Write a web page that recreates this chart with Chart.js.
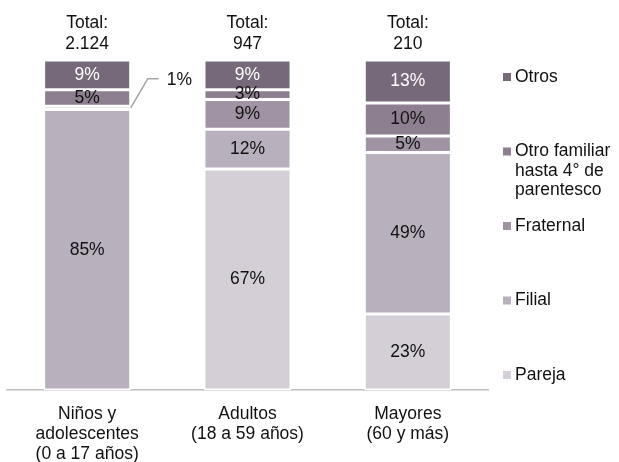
<!DOCTYPE html>
<html lang="es">
<head>
<meta charset="UTF-8">
<title>Relación con el agresor por grupo de edad</title>
<script src="https://cdn.jsdelivr.net/npm/chart.js@4.4.0/dist/chart.umd.min.js"></script>
<style>
    html, body {
        margin: 0;
        padding: 0;
        background: #fff;
        overflow: hidden;
    }
    canvas {
        display: block;
    }
</style>
</head>
<body>

<canvas id="chart" width="619" height="462"></canvas>

<script>
    const categories = [['Niños y', 'adolescentes', '(0 a 17 años)'], ['Adultos', '(18 a 59 años)'], ['Mayores', '(60 y más)']];
    const totals = ['2.124', '947', '210'];
    const seriesNames = ['Pareja', 'Filial', 'Fraternal', 'Otro familiar hasta 4° de parentesco', 'Otros'];
    const pareja = [0, 67, 23];
    const filial = [85, 12, 49];
    const fraternal = [1, 9, 5];
    const otroFamiliar = [5, 3, 10];
    const otros = [9, 9, 13];
    const seriesColors = ['#D4CFD6', '#B9B0BD', '#A093A3', '#8D7F8F', '#766A7A'];

    const FAMILY = '"Liberation Sans", Arial, sans-serif';
    const SIZE = 17.5;
    const FONT = SIZE + 'px ' + FAMILY;
    const TEXT = '#111';

    Chart.defaults.font.family = FAMILY;
    Chart.defaults.font.size = SIZE;
    Chart.defaults.color = TEXT;

    // percentages inside the segments, 1% gets a leader line
    const segmentLabels = {
        id: 'segmentLabels',
        afterDatasetsDraw(chart) {
            const ctx = chart.ctx;
            const last = chart.data.datasets.length - 1;
            ctx.save();
            ctx.font = FONT;
            ctx.textBaseline = 'middle';
            chart.data.datasets.forEach((ds, di) => {
                chart.getDatasetMeta(di).data.forEach((bar, i) => {
                    const v = ds.data[i];
                    if (!v) return;
                    const yMid = (bar.y + bar.base) / 2;
                    if (v < 2) {
                        const x0 = bar.x + bar.width / 2;
                        const x1 = x0 + 17, y1 = yMid - 29, x2 = x1 + 11;
                        ctx.strokeStyle = '#A6A6A6';
                        ctx.lineWidth = 1.5;
                        ctx.beginPath();
                        ctx.moveTo(x0, yMid);
                        ctx.lineTo(x1, y1);
                        ctx.lineTo(x2, y1);
                        ctx.stroke();
                        ctx.fillStyle = TEXT;
                        ctx.textAlign = 'left';
                        ctx.fillText(v + '%', x2 + 8, y1 + 1);
                    } else {
                        ctx.fillStyle = di === last ? '#fff' : TEXT;
                        ctx.textAlign = 'center';
                        ctx.fillText(v + '%', bar.x, yMid);
                    }
                });
            });
            ctx.restore();
        }
    };

    const totalLabels = {
        id: 'totalLabels',
        afterDraw(chart) {
            const ctx = chart.ctx;
            const xs = chart.scales.x;
            const top = chart.chartArea.top;
            ctx.save();
            ctx.font = FONT;
            ctx.fillStyle = TEXT;
            ctx.textAlign = 'center';
            ctx.textBaseline = 'middle';
            totals.forEach((t, i) => {
                const x = xs.getPixelForValue(i);
                ctx.fillText('Total:', x, top - 37);
                ctx.fillText(t, x, top - 16);
            });
            ctx.restore();
        }
    };

    const sideLegend = {
        id: 'sideLegend',
        afterDraw(chart) {
            const ctx = chart.ctx;
            const area = chart.chartArea;
            const boxX = area.right + 15;
            const textX = boxX + 12;
            const step = 74.5;
            ctx.save();
            ctx.font = FONT;
            ctx.textBaseline = 'middle';
            ctx.textAlign = 'left';
            const items = chart.data.datasets.slice().reverse();
            items.forEach((ds, k) => {
                const y = area.top + 17 + k * step;
                ctx.fillStyle = ds.backgroundColor;
                ctx.fillRect(boxX, y - 4, 8, 8);
                // wrap long names
                const lines = [];
                let line = '';
                ds.label.split(' ').forEach(w => {
                    const test = line ? line + ' ' + w : w;
                    if (line && ctx.measureText(test).width > 102) {
                        lines.push(line);
                        line = w;
                    } else {
                        line = test;
                    }
                });
                lines.push(line);
                ctx.fillStyle = TEXT;
                lines.forEach((l, j) => ctx.fillText(l, textX, y + j * 19.5));
            });
            ctx.restore();
        }
    };

    const values = [pareja, filial, fraternal, otroFamiliar, otros];

    const chart = new Chart(document.getElementById('chart'), {
        type: 'bar',
        data: {
            labels: categories,
            datasets: seriesNames.map((name, k) => ({
                label: name,
                data: values[k],
                backgroundColor: seriesColors[k],
                borderColor: '#fff',
                borderWidth: 1.5,
                borderSkipped: false,
                barPercentage: 0.543,
                categoryPercentage: 1.0
            }))
        },
        options: {
            responsive: false,
            animation: false,
            layout: {
                padding: { left: 7, right: 131, top: 60, bottom: 0 }
            },
            plugins: {
                legend: { display: false },
                tooltip: { enabled: false }
            },
            scales: {
                x: {
                    stacked: true,
                    z: 1,
                    grid: { display: false, drawTicks: false },
                    border: { color: '#BFBFBF', width: 1.5 },
                    ticks: {
                        color: TEXT,
                        font: { size: SIZE, lineHeight: 1.15 },
                        padding: 14,
                        maxRotation: 0,
                        autoSkip: false
                    },
                    afterFit(scale) {
                        scale.height = 72;
                    }
                },
                y: {
                    stacked: true,
                    display: false,
                    min: 0,
                    max: 100
                }
            }
        },
        plugins: [segmentLabels, totalLabels, sideLegend]
    });
</script>

</body>
</html>
